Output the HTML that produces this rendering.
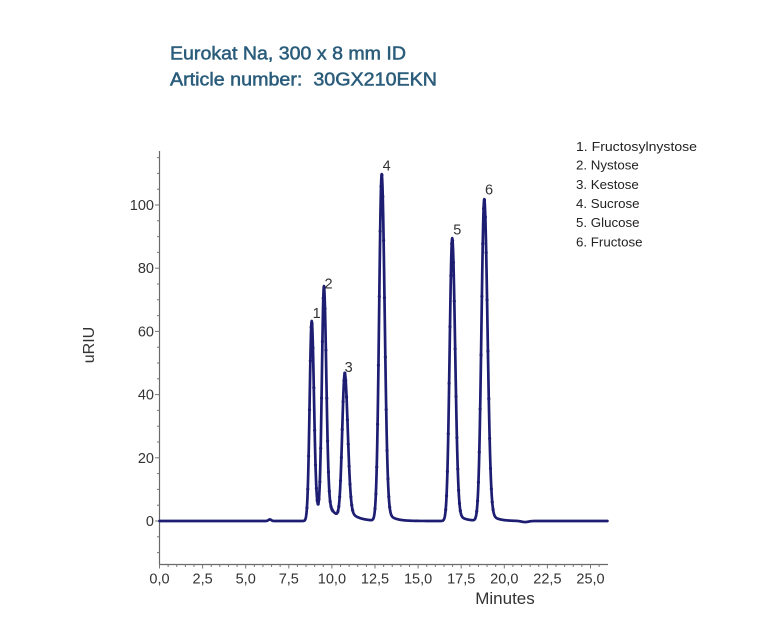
<!DOCTYPE html>
<html>
<head>
<meta charset="utf-8">
<style>
  html, body { margin:0; padding:0; background:#ffffff; }
  body { width:778px; height:644px; overflow:hidden; }
  svg { display:block; }
  text { font-family: "Liberation Sans", "DejaVu Sans", sans-serif; }
</style>
</head>
<body>
<svg id="chart" width="778" height="644" viewBox="0 0 778 644" xmlns="http://www.w3.org/2000/svg">
  <rect x="0" y="0" width="778" height="644" fill="#ffffff"/>

  <!-- Title -->
  <text x="170" y="59.5" font-size="18" fill="#2a5c7b" stroke="#2a5c7b" stroke-width="0.5" textLength="236" lengthAdjust="spacingAndGlyphs">Eurokat Na, 300 x 8 mm ID</text>
  <text x="170" y="85.5" font-size="18" fill="#2a5c7b" stroke="#2a5c7b" stroke-width="0.5" textLength="267" lengthAdjust="spacingAndGlyphs">Article number:&#160; 30GX210EKN</text>

  <!-- Legend -->
  <g font-size="13.3" fill="#222">
    <text x="576" y="150.8" textLength="121" lengthAdjust="spacingAndGlyphs">1. Fructosylnystose</text>
    <text x="576" y="169.5">2. Nystose</text>
    <text x="576" y="188.8">3. Kestose</text>
    <text x="576" y="208">4. Sucrose</text>
    <text x="576" y="227">5. Glucose</text>
    <text x="576" y="246.4">6. Fructose</text>
  </g>

  <!-- Axes -->
  <g id="axes" stroke="#6a6a6a" stroke-width="1.2" fill="none">
    <line x1="159.5" y1="151" x2="159.5" y2="564.5"/>
    <line x1="159" y1="564.5" x2="608" y2="564.5"/>
  </g>
  <g id="ticks" stroke="#777" stroke-width="1"></g>

  <!-- Y tick labels -->
  <g font-size="14.5" fill="#333" text-anchor="end">
    <text x="154" y="526">0</text>
    <text x="154" y="462.8">20</text>
    <text x="154" y="399.6">40</text>
    <text x="154" y="336.4">60</text>
    <text x="154" y="273.2">80</text>
    <text x="154" y="210">100</text>
  </g>

  <!-- X tick labels -->
  <g font-size="14.5" fill="#333" text-anchor="middle">
    <text x="159.5" y="583.5">0,0</text>
    <text x="202.6" y="583.5">2,5</text>
    <text x="245.7" y="583.5">5,0</text>
    <text x="288.8" y="583.5">7,5</text>
    <text x="331.9" y="583.5">10,0</text>
    <text x="375" y="583.5">12,5</text>
    <text x="418.1" y="583.5">15,0</text>
    <text x="461.2" y="583.5">17,5</text>
    <text x="504.3" y="583.5">20,0</text>
    <text x="547.4" y="583.5">22,5</text>
    <text x="590.5" y="583.5">25,0</text>
  </g>

  <!-- Axis titles -->
  <text x="505" y="604" font-size="17" fill="#333" text-anchor="middle">Minutes</text>
  <text transform="translate(94,345) rotate(-90)" x="0" y="0" font-size="16" fill="#333" text-anchor="middle">uRIU</text>

  <!-- Trace -->
  <path id="trace" d="" fill="none" stroke="#1d1d72" stroke-width="2.7" stroke-linejoin="round" stroke-linecap="round"/>
  <g id="dots" fill="#1d1d72"></g>

  <!-- Peak labels -->
  <g font-size="14.5" fill="#333" text-anchor="middle">
    <text x="316.7" y="318">1</text>
    <text x="328.5" y="288.5">2</text>
    <text x="348.7" y="372">3</text>
    <text x="386.7" y="170.3">4</text>
    <text x="457.3" y="234.3">5</text>
    <text x="489" y="194.6">6</text>
  </g>
</svg>
<script>
(function(){
  var NS = "http://www.w3.org/2000/svg";
  function X(t){ return 159.5 + 17.24 * t; }
  function Y(v){ return 521 - 3.16 * v; }

  var tg = document.getElementById('ticks');
  function line(x1,y1,x2,y2){
    var l = document.createElementNS(NS,'line');
    l.setAttribute('x1',x1); l.setAttribute('y1',y1);
    l.setAttribute('x2',x2); l.setAttribute('y2',y2);
    tg.appendChild(l);
  }
  for (var t = 0; t <= 25.75; t += 0.5) {
    var major = Math.abs(t/2.5 - Math.round(t/2.5)) < 1e-6;
    line(X(t), 564.5, X(t), 564.5 + (major ? 4 : 2.5));
  }
  for (var v = -10; v <= 115; v += 5) {
    var maj = (v % 20 === 0) && v >= 0 && v <= 100;
    line(159.5 - (maj ? 4.5 : 2.5), Y(v), 159.5, Y(v));
  }

  // peaks: t, H, sL, sR, a, tau
  var P = [
    [8.83, 63.3, 0.12, 0.13, 0.10, 0.5],
    [9.54, 72.8, 0.12, 0.135, 0.10, 0.5],
    [10.75, 46.0, 0.15, 0.17, 0.10, 0.5],
    [12.89, 109.7, 0.15, 0.17, 0.05, 0.4],
    [16.98, 89.5, 0.15, 0.17, 0.05, 0.4],
    [18.84, 101.8, 0.165, 0.185, 0.05, 0.4]
  ];
  function f(t){
    var s = 0;
    for (var i=0;i<P.length;i++){
      var p = P[i], d = t - p[0];
      if (d < 0) s += p[1]*Math.exp(-0.5*(d/p[2])*(d/p[2]));
      else s += p[1]*((1-p[4])*Math.exp(-0.5*(d/p[3])*(d/p[3])) + p[4]*Math.exp(-d/p[5]));
    }
    s += 0.5*Math.exp(-0.5*Math.pow((t-6.4)/0.08,2));
    s -= 0.35*Math.exp(-0.5*Math.pow((t-21.2)/0.2,2));
    return s;
  }
  var d = "";
  var first = true;
  for (var t = 0; t <= 25.99; t += 0.01) {
    d += (first ? "M" : "L") + X(t).toFixed(2) + "," + Y(f(t)).toFixed(2);
    first = false;
  }
  document.getElementById('trace').setAttribute('d', d);

  var dg = document.getElementById('dots');
  for (var t = 8.4; t <= 20.0; t += 0.05) {
    var v = f(t);
    if (v < 3) continue;
    var c = document.createElementNS(NS,'circle');
    c.setAttribute('cx', X(t).toFixed(2));
    c.setAttribute('cy', Y(v).toFixed(2));
    c.setAttribute('r', '1.6');
    dg.appendChild(c);
  }
})();
</script>
</body>
</html>
